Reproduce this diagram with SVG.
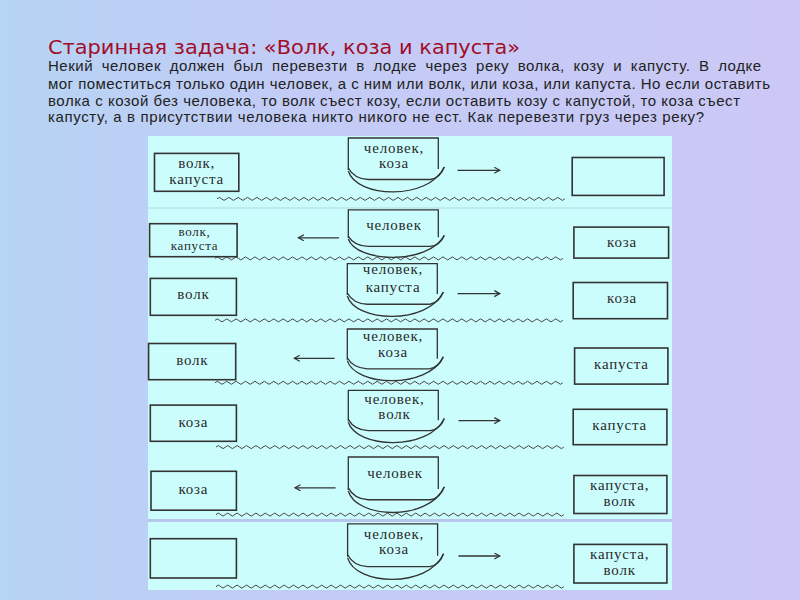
<svg xmlns="http://www.w3.org/2000/svg" xmlns:xlink="http://www.w3.org/1999/xlink" width="800" height="600" viewBox="0 0 800 600">
<defs>
<linearGradient id="bg" x1="0" y1="0" x2="1" y2="0">
<stop offset="0" stop-color="#b6d4f4"/>
<stop offset="0.35" stop-color="#c2ccf6"/>
<stop offset="1" stop-color="#ccc8f6"/>
</linearGradient>
<marker id="ah" markerWidth="8" markerHeight="8" refX="6" refY="3.5" orient="auto" markerUnits="userSpaceOnUse">
<path d="M0.5,0.5 L6,3.5 L0.5,6.5" fill="none" stroke="#333" stroke-width="1.2"/>
</marker>
<path id="wave" d="M0,0 q2.35,-3 4.7,0 t4.7,0t4.7,0t4.7,0t4.7,0t4.7,0t4.7,0t4.7,0t4.7,0t4.7,0t4.7,0 t4.7,0t4.7,0t4.7,0t4.7,0t4.7,0t4.7,0t4.7,0t4.7,0t4.7,0t4.7,0 t4.7,0t4.7,0t4.7,0t4.7,0t4.7,0t4.7,0t4.7,0t4.7,0t4.7,0t4.7,0 t4.7,0t4.7,0t4.7,0t4.7,0t4.7,0t4.7,0t4.7,0t4.7,0t4.7,0t4.7,0 t4.7,0t4.7,0t4.7,0t4.7,0t4.7,0t4.7,0t4.7,0t4.7,0t4.7,0t4.7,0 t4.7,0t4.7,0t4.7,0t4.7,0t4.7,0t4.7,0t4.7,0t4.7,0t4.7,0t4.7,0 t4.7,0t4.7,0t4.7,0t4.7,0t4.7,0t4.7,0t4.7,0t4.7,0t4.7,0t4.7,0 t4.7,0t4.7,0t4.7,0" fill="none" stroke="#444" stroke-width="1"/>
<g id="boat" fill="none" stroke="#333" stroke-width="1.3">
<path d="M0,32 V0 H90 V31" vector-effect="non-scaling-stroke"/>
<path d="M0,30 Q6,41 20,41.5 L82,41.5 Q92,40 96,29" vector-effect="non-scaling-stroke"/>
<path d="M0,33 C8,60 80,63 96,29" vector-effect="non-scaling-stroke"/>
</g>
</defs>
<style>
.box{fill:none;stroke:#333;stroke-width:1.6}
.lbl{font-family:"Liberation Serif","Times New Roman",serif;font-size:15px;letter-spacing:0.8px;fill:#2a2a2a;text-anchor:middle}
.sm{font-size:13px;letter-spacing:0.7px}
.arrow{stroke:#333;stroke-width:1.3;fill:none;marker-end:url(#ah)}
.body{font-family:"Liberation Sans",Arial,sans-serif;font-size:15px;fill:#222}
.title{font-family:"DejaVu Sans","Liberation Sans",sans-serif;font-size:19.5px;fill:#a00e2a}
</style>
<rect width="800" height="600" fill="url(#bg)"/>
<text class="title" x="48" y="54" textLength="472" lengthAdjust="spacingAndGlyphs">Старинная задача: «Волк, коза и капуста»</text>
<text class="body" x="48" y="71" textLength="713" lengthAdjust="spacing" word-spacing="4">Некий человек должен был перевезти в лодке через реку волка, козу и капусту. В лодке</text>
<text class="body" x="48" y="88.5" textLength="722" lengthAdjust="spacing">мог поместиться только один человек, а с ним или волк, или коза, или капуста. Но если оставить</text>
<text class="body" x="48" y="105.5" textLength="692" lengthAdjust="spacing">волка с козой без человека, то волк съест козу, если оставить козу с капустой, то коза съест</text>
<text class="body" x="48" y="122" textLength="656" lengthAdjust="spacing">капусту, а в присутствии человека никто никого не ест. Как перевезти груз через реку?</text>
<rect x="148" y="136" width="524" height="454" fill="#ccfdfd"/>
<line x1="148" y1="208" x2="672" y2="208" stroke="#b0d8e2" stroke-width="1"/>
<line x1="148" y1="520.5" x2="672" y2="520.5" stroke="#b8c6ee" stroke-width="3"/>
<g id="waves">
<use xlink:href="#wave" x="217" y="198.9"/>
<use xlink:href="#wave" x="215" y="258.4"/>
<use xlink:href="#wave" x="215" y="320.4"/>
<use xlink:href="#wave" x="215" y="382.8"/>
<use xlink:href="#wave" x="216" y="447.1"/>
<use xlink:href="#wave" x="216" y="514.6"/>
<use xlink:href="#wave" x="216" y="586.6"/>
</g>
<g id="row1-left"><rect class="box" x="154.5" y="153.4" width="84.3" height="37.9"/><text class="lbl" x="196.7" y="168">волк,</text><text class="lbl" x="196.7" y="183.5">капуста</text></g>
<g id="row1-boat"><use xlink:href="#boat" transform="translate(348.3,138)"/><text class="lbl" x="394" y="152.5">человек,</text><text class="lbl" x="394" y="168">коза</text></g>
<g id="row1-right"><rect class="box" x="572.2" y="157.5" width="91.9" height="37.9"/></g>
<g id="row2-left"><rect class="box" x="149.6" y="223.7" width="87.5" height="33"/><text class="lbl sm" x="194.5" y="235.5">волк,</text><text class="lbl sm" x="194.5" y="250">капуста</text></g>
<g id="row2-boat"><use xlink:href="#boat" transform="translate(348.3,209.9) scale(1,0.88)"/><text class="lbl" x="394" y="230">человек</text></g>
<g id="row2-right"><rect class="box" x="573.9" y="227.1" width="94.7" height="31"/><text class="lbl" x="622" y="246.5">коза</text></g>
<g id="row3-left"><rect class="box" x="150.3" y="278.4" width="86.1" height="36.9"/><text class="lbl" x="193.4" y="299">волк</text></g>
<g id="row3-boat"><use xlink:href="#boat" transform="translate(347.3,263.6) scale(1,0.98)"/><text class="lbl" x="393" y="274">человек,</text><text class="lbl" x="393" y="292">капуста</text></g>
<g id="row3-right"><rect class="box" x="573.2" y="282.5" width="94.3" height="36.2"/><text class="lbl" x="622" y="303.3">коза</text></g>
<g id="row4-left"><rect class="box" x="148.6" y="343.5" width="87.1" height="36.2"/><text class="lbl" x="192.3" y="364.5">волк</text></g>
<g id="row4-boat"><use xlink:href="#boat" transform="translate(347.3,329) scale(1,0.96)"/><text class="lbl" x="393" y="341">человек,</text><text class="lbl" x="393" y="357.3">коза</text></g>
<g id="row4-right"><rect class="box" x="574.6" y="348" width="93.3" height="36.1"/><text class="lbl" x="621.4" y="368.7">капуста</text></g>
<g id="row5-left"><rect class="box" x="150.3" y="405.1" width="86.1" height="36.2"/><text class="lbl" x="193.4" y="426.5">коза</text></g>
<g id="row5-boat"><use xlink:href="#boat" transform="translate(348.3,390.3) scale(1,0.97)"/><text class="lbl" x="394.5" y="404.2">человек,</text><text class="lbl" x="394.5" y="419">волк</text></g>
<g id="row5-right"><rect class="box" x="573.2" y="409.3" width="93.7" height="35.4"/><text class="lbl" x="619.7" y="430">капуста</text></g>
<g id="row6-left"><rect class="box" x="151" y="471.3" width="85.4" height="38.9"/><text class="lbl" x="193.4" y="494.4">коза</text></g>
<g id="row6-boat"><use xlink:href="#boat" transform="translate(348.3,457) scale(1,1.03)"/><text class="lbl" x="395" y="478.2">человек</text></g>
<g id="row6-right"><rect class="box" x="573.9" y="475.5" width="93" height="38"/><text class="lbl" x="619.7" y="490">капуста,</text><text class="lbl" x="619.7" y="506">волк</text></g>
<g id="row7-left"><rect class="box" x="150.3" y="538.7" width="86.1" height="39.3"/></g>
<g id="row7-boat"><use xlink:href="#boat" transform="translate(347.6,523.9) scale(1,1.03)"/><text class="lbl" x="394" y="538.5">человек,</text><text class="lbl" x="394" y="554.2">коза</text></g>
<g id="row7-right"><rect class="box" x="573.9" y="544.4" width="93" height="38.6"/><text class="lbl" x="619.7" y="559">капуста,</text><text class="lbl" x="619.7" y="574.5">волк</text></g>
<g id="connectors">
<line class="arrow" x1="457.5" y1="170.3" x2="499.8" y2="170.3"/>
<line class="arrow" x1="339" y1="237.8" x2="298.4" y2="237.8"/>
<line class="arrow" x1="457.5" y1="293.6" x2="499.8" y2="293.6"/>
<line class="arrow" x1="334.6" y1="358.3" x2="294.3" y2="358.3"/>
<line class="arrow" x1="458.5" y1="420.6" x2="499.8" y2="420.6"/>
<line class="arrow" x1="335.6" y1="487.8" x2="295" y2="487.8"/>
<line class="arrow" x1="458.5" y1="556" x2="499.8" y2="556"/>
</g>
</svg>
